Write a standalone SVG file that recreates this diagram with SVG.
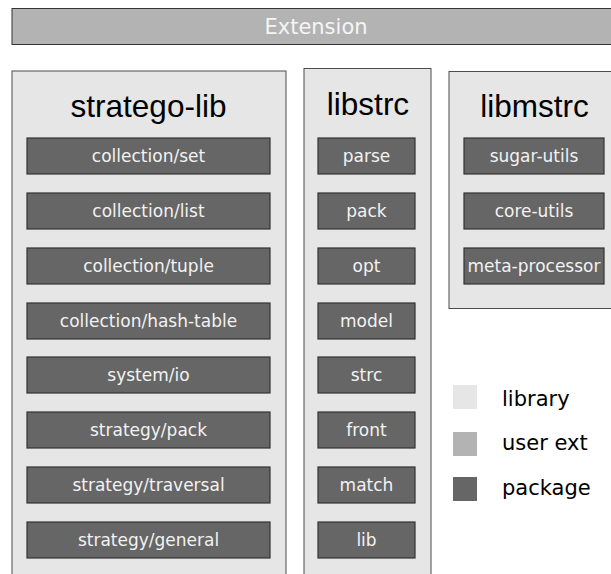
<svg xmlns="http://www.w3.org/2000/svg" width="611" height="574" viewBox="0 0 611 574">
<style>
.lib{fill:#e6e6e6;stroke:#4d4d4d;stroke-width:1}
.pkg{fill:#666666;stroke:#333333;stroke-width:1.2}
.ptxt{font-family:"DejaVu Sans",sans-serif;font-size:17px;fill:#f2f2f2;text-anchor:middle;dominant-baseline:central}
.ttl{font-family:"Liberation Sans",Arial,sans-serif;font-size:31.5px;fill:#000;text-anchor:middle}
.leg{font-family:"DejaVu Sans",sans-serif;font-size:21px;fill:#000}
</style>
<rect width="611" height="574" fill="#ffffff"/>
<g id="extension">
<rect x="12" y="8.5" width="610" height="36" fill="#b3b3b3" stroke="#333333" stroke-width="1"/>
<text x="316" y="26.5" font-family="DejaVu Sans, sans-serif" font-size="21" fill="#f5f5f5" text-anchor="middle" dominant-baseline="central">Extension</text>
</g>
<g id="stratego-lib">
<rect class="lib" x="12" y="71" width="274" height="510"/>
<text class="ttl" x="148.5" y="117">stratego-lib</text>
<g id="collection-set"><rect class="pkg" x="27" y="138" width="243" height="36"/><text class="ptxt" x="148.5" y="156">collection/set</text></g>
<g id="collection-list"><rect class="pkg" x="27" y="193" width="243" height="36"/><text class="ptxt" x="148.5" y="211">collection/list</text></g>
<g id="collection-tuple"><rect class="pkg" x="27" y="248" width="243" height="36"/><text class="ptxt" x="148.5" y="266">collection/tuple</text></g>
<g id="collection-hash-table"><rect class="pkg" x="27" y="303" width="243" height="36"/><text class="ptxt" x="148.5" y="321">collection/hash-table</text></g>
<g id="system-io"><rect class="pkg" x="27" y="357" width="243" height="36"/><text class="ptxt" x="148.5" y="375">system/io</text></g>
<g id="strategy-pack"><rect class="pkg" x="27" y="412" width="243" height="36"/><text class="ptxt" x="148.5" y="430">strategy/pack</text></g>
<g id="strategy-traversal"><rect class="pkg" x="27" y="467" width="243" height="36"/><text class="ptxt" x="148.5" y="485">strategy/traversal</text></g>
<g id="strategy-general"><rect class="pkg" x="27" y="522" width="243" height="36"/><text class="ptxt" x="148.5" y="540">strategy/general</text></g>
</g>
<g id="libstrc">
<rect class="lib" x="304" y="68.5" width="127" height="512"/>
<text class="ttl" x="368" y="115" font-size="32">libstrc</text>
<g id="parse"><rect class="pkg" x="318" y="138" width="97" height="36"/><text class="ptxt" x="366.5" y="156">parse</text></g>
<g id="pack"><rect class="pkg" x="318" y="193" width="97" height="36"/><text class="ptxt" x="366.5" y="211">pack</text></g>
<g id="opt"><rect class="pkg" x="318" y="248" width="97" height="36"/><text class="ptxt" x="366.5" y="266">opt</text></g>
<g id="model"><rect class="pkg" x="318" y="303" width="97" height="36"/><text class="ptxt" x="366.5" y="321">model</text></g>
<g id="strc"><rect class="pkg" x="318" y="357" width="97" height="36"/><text class="ptxt" x="366.5" y="375">strc</text></g>
<g id="front"><rect class="pkg" x="318" y="412" width="97" height="36"/><text class="ptxt" x="366.5" y="430">front</text></g>
<g id="match"><rect class="pkg" x="318" y="467" width="97" height="36"/><text class="ptxt" x="366.5" y="485">match</text></g>
<g id="lib"><rect class="pkg" x="318" y="522" width="97" height="36"/><text class="ptxt" x="366.5" y="540">lib</text></g>
</g>
<g id="libmstrc">
<rect class="lib" x="449" y="71.5" width="170" height="237"/>
<text class="ttl" x="534.5" y="117">libmstrc</text>
<g id="sugar-utils"><rect class="pkg" x="464" y="138" width="140" height="36"/><text class="ptxt" x="534" y="156">sugar-utils</text></g>
<g id="core-utils"><rect class="pkg" x="464" y="193" width="140" height="36"/><text class="ptxt" x="534" y="211">core-utils</text></g>
<g id="meta-processor"><rect class="pkg" x="464" y="248" width="140" height="36"/><text class="ptxt" x="534" y="266">meta-processor</text></g>
</g>
<g id="legend">
<rect x="453" y="385" width="24" height="24" fill="#e6e6e6"/>
<text class="leg" x="502" y="406">library</text>
<rect x="453" y="432" width="24" height="24" fill="#b3b3b3"/>
<text class="leg" x="502" y="450">user ext</text>
<rect x="453" y="477" width="24" height="24" fill="#666666"/>
<text class="leg" x="502" y="495">package</text>
</g>
</svg>
